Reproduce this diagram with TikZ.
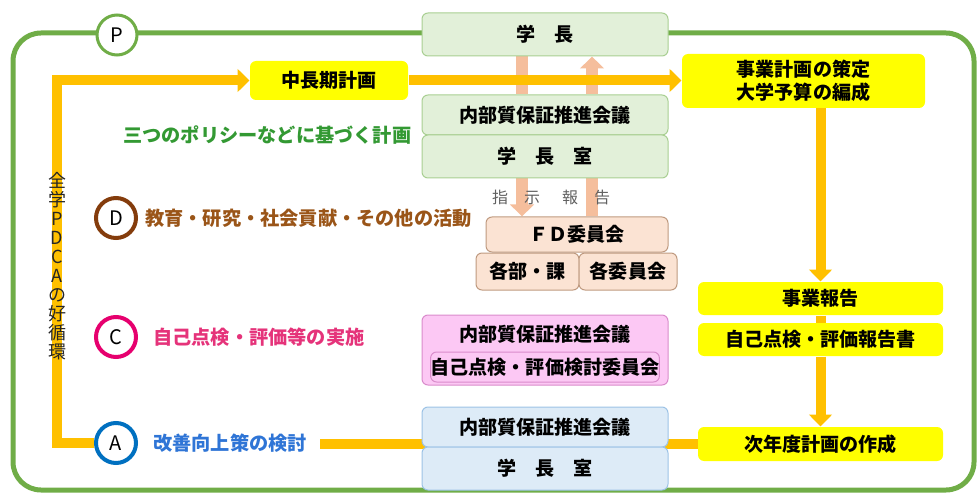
\documentclass[tikz,border=0pt]{standalone}
\usepackage{fontspec}
\setmainfont{Noto Sans CJK JP}
\usetikzlibrary{arrows.meta}
\pgfdeclarelayer{bg}
\pgfsetlayers{bg,main}
\definecolor{frameg}{HTML}{70AD47}
\definecolor{orng}{HTML}{FFC000}
\definecolor{yel}{HTML}{FFFF00}
\definecolor{salm}{HTML}{F5BE9C}
\definecolor{lgfill}{HTML}{E2F0D9}
\definecolor{lgdraw}{HTML}{A9CF92}
\definecolor{sfill}{HTML}{FBE3D3}
\definecolor{sdraw}{HTML}{BF9A80}
\definecolor{pfill}{HTML}{FCC8F4}
\definecolor{pdraw}{HTML}{D98BCB}
\definecolor{bfill}{HTML}{DDEBF7}
\definecolor{bdraw}{HTML}{9DC3E6}
\definecolor{dbrown}{HTML}{843C0C}
\definecolor{tgreen}{HTML}{339933}
\definecolor{tbrown}{HTML}{9A5518}
\definecolor{cpink}{HTML}{E6006E}
\definecolor{tpink}{HTML}{E5337A}
\definecolor{cblue}{HTML}{0070C0}
\definecolor{tblue}{HTML}{2F75D6}
\definecolor{tgray}{HTML}{606060}
\tikzset{
  boxbase/.style={rounded corners=4.5pt, inner sep=0pt, line width=0.75pt, align=center,
    font=\bfseries\fontsize{14.3}{17.5}\selectfont},
  gbox/.style={boxbase, fill=lgfill, draw=lgdraw, minimum width=184.5pt},
  sbox/.style={boxbase, fill=sfill, draw=sdraw},
  pbox/.style={boxbase, fill=pfill, draw=pdraw},
  bbox/.style={boxbase, fill=bfill, draw=bdraw, minimum width=184.5pt},
  ybox/.style={boxbase, fill=yel},
  stagecircle/.style={circle, fill=white, minimum size=30pt, inner sep=0pt,
    font=\fontsize{15}{16}\selectfont},
  stagetext/.style={anchor=west, inner sep=0pt, font=\bfseries\fontsize{14.4}{16}\selectfont},
  frameline/.style={draw=frameg, line width=3.75pt, rounded corners=21pt},
  orline/.style={draw=orng, line width=7.5pt},
  orarrow/.style={orline, -{Triangle[length=9pt,width=17pt]}},
  saline/.style={draw=salm, line width=9.5pt},
  saarrow/.style={saline, -{Triangle[length=9pt,width=17.5pt]}},
  smalltext/.style={inner sep=0pt, text=tgray, font=\fontsize{12}{13}\selectfont}
}
\begin{document}
\begin{tikzpicture}[x=0.75pt,y=-0.75pt]
\useasboundingbox (0,0) rectangle (977,495);

% ---- boxes ----
\node[gbox, minimum height=32.25pt] (gakucho) at (545,34.5) {学　長};
\node[gbox, minimum height=30pt] (naibuG) at (545,115) {内部質保証推進会議};
\node[gbox, minimum height=32.25pt] (shitsuG) at (545,156.5) {学　長　室};

\node[sbox, minimum width=136.5pt, minimum height=26.25pt] (fd) at (577,234.5) {ＦＤ委員会};
\node[sbox, minimum width=77.25pt, minimum height=27.75pt] (kakubu) at (527.5,271.5) {各部・課};
\node[sbox, minimum width=73.5pt, minimum height=27.75pt] (kakuiin) at (628,271.5) {各委員会};

\node[pbox, minimum width=184.5pt, minimum height=52.5pt] (pouter) at (545,350) {};
\node[inner sep=0pt, font=\bfseries\fontsize{14.3}{16}\selectfont] (ptitle) at (545,334) {内部質保証推進会議};
\node[pbox, minimum width=168pt, minimum height=22.5pt] (pinner) at (545,367) {自己点検・評価検討委員会};

\node[bbox, minimum height=30pt] (naibuB) at (545,427) {内部質保証推進会議};
\node[bbox, minimum height=32.25pt] (shitsuB) at (545,468.5) {学　長　室};

\node[ybox, minimum width=118.5pt, minimum height=29.25pt] (chuchoki) at (329,80.5) {中長期計画};
\node[ybox, minimum width=182.25pt, minimum height=40.5pt] (jigyo) at (803.5,81) {事業計画の策定\\大学予算の編成};
\node[ybox, minimum width=183.75pt, minimum height=24.75pt] (hokoku) at (820.5,298.5) {事業報告};
\node[ybox, minimum width=183.75pt, minimum height=24.75pt] (jiko) at (820.5,339.5) {自己点検・評価報告書};
\node[ybox, minimum width=183.75pt, minimum height=25.5pt] (jinendo) at (820.5,444) {次年度計画の作成};

% ---- stage circles and texts ----
\node[stagecircle, draw=frameg, line width=2.25pt] (P) at (117,35) {P};
\node[stagecircle, draw=dbrown, line width=3pt] (D) at (116,218) {D};
\node[stagecircle, draw=cpink, line width=3pt] (C) at (116,337) {C};
\node[stagecircle, draw=cblue, line width=3pt] (A) at (116,443) {A};

\node[stagetext, text=tgreen] (mitsu) at (123,135) {三つのポリシーなどに基づく計画};
\node[stagetext, text=tbrown] (Dtext) at (145,218) {教育・研究・社会貢献・その他の活動};
\node[stagetext, text=tpink] (Ctext) at (153,337) {自己点検・評価等の実施};
\node[stagetext, text=tblue] (Atext) at (153,443) {改善向上策の検討};

\node[smalltext] (shiji) at (516,197) {指　示};
\node[smalltext] (hokokuL) at (586,197) {報　告};

\node[inner sep=0pt, align=center, text=black!85, font=\fontsize{13.5}{14.25}\selectfont] (zengaku) at (57,266)
  {全\\学\\P\\D\\C\\A\\の\\好\\循\\環};

\coordinate (lx) at (57,0);
\coordinate (xl) at (522,0);
\coordinate (xr) at (592,0);
\coordinate (bstart) at (320,0);

% ---- background: frame and connectors ----
\begin{pgfonlayer}{bg}
  \draw[frameline] (13,33) rectangle (974,490);
  % salmon arrows
  \draw[saline] (gakucho.south -| xl) -- (naibuG.north -| xl);
  \draw[saarrow] (naibuG.north -| xr) -- (gakucho.south -| xr);
  \draw[saarrow] (shitsuG.south -| xl) -- (fd.north -| xl);
  \draw[saline] (fd.north -| xr) -- (shitsuG.south -| xr);
  % orange lines
  \draw[orarrow] (A.west) -- (A.west -| lx) |- (chuchoki.west);
  \draw[orarrow] (chuchoki.east) -- (chuchoki.east -| jigyo.west);
  \draw[orarrow] (hokoku.north |- jigyo.south) -- (hokoku.north);
  \draw[orline] (hokoku.south) -- (jiko.north);
  \draw[orarrow] (jiko.south) -- (jinendo.north);
  \draw[orline] (jinendo.west) -- (jinendo.west -| bstart);
\end{pgfonlayer}
\end{tikzpicture}
\end{document}
